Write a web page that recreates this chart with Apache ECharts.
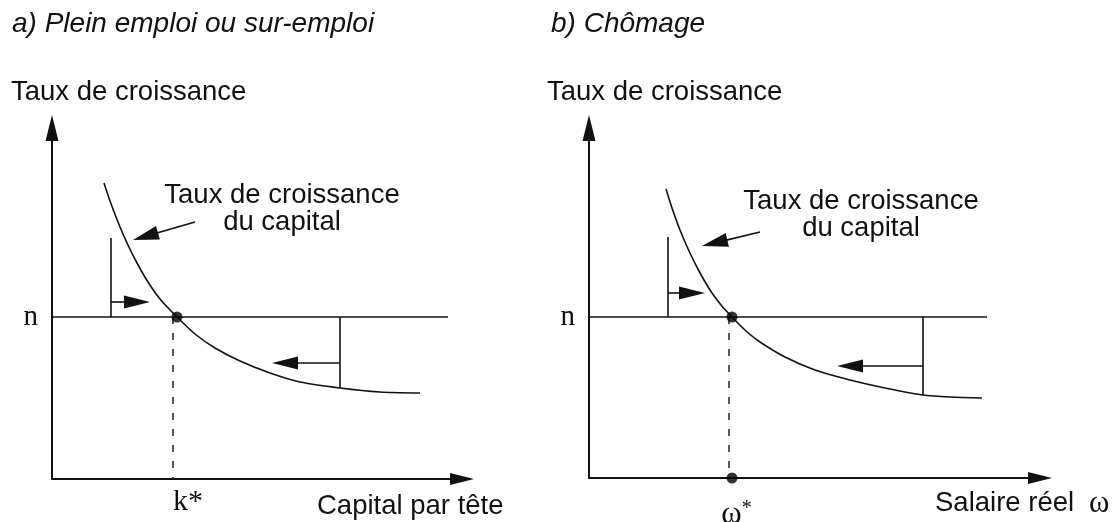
<!DOCTYPE html>
<html><head><meta charset="utf-8">
<script src="https://cdn.jsdelivr.net/npm/echarts@6/dist/echarts.min.js"></script>
<style>html,body{margin:0;padding:0;background:#fff}#c{width:1120px;height:522px}</style>
</head><body><div id="c"></div>
<script>
// ---------- Texts ----------
const panelTitles = ['a) Plein emploi ou sur-emploi', 'b) Chômage'];
const yAxisNames = ['Taux de croissance', 'Taux de croissance'];
const xAxisNames = ['Capital par tête', 'Salaire réel'];
const curveLabel = 'Taux de croissance\ndu capital';
const nLabel = 'n';
const starLabels = ['k*', 'ω'];

// ---------- Panel a (plein emploi) ----------
const nLevelA = 16.2;
const nLineAX = [0, 39.6];
const curveAX = [5.2, 5.8, 6.6, 7.5, 8.5, 9.6, 10.8, 12.5, 14.3, 16.3, 18.8, 21.8, 24.8, 28.8, 32.8, 36.8];
const curveAY = [29.6, 27.8, 25.7, 23.6, 21.6, 19.7, 18.0, 16.2, 14.5, 13.1, 11.8, 10.6, 9.7, 9.1, 8.7, 8.6];
const eqA = 12.5;       // equilibrium k*
const dashA = 12.1;
const bracketLeftA = [5.9, 24.1];   // x, top
const bracketRightA = [28.8, 9.1];  // x, bottom
const arrowsA = [[5.9, 17.7, 9.8, 17.7], [28.8, 11.6, 22.0, 11.6]];
const pointerA = [[14.3, 25.7, 8.1, 23.9]];

// ---------- Panel b (chômage) ----------
const nLevelB = 16.1;
const nLineBX = [0, 39.8];
const curveBX = [7.7, 8.3, 9.1, 10.0, 11.0, 12.1, 13.2, 14.3, 15.7, 17.1, 19.6, 22.6, 26.1, 29.6, 33.4, 36.1, 39.3];
const curveBY = [28.9, 27.0, 24.8, 22.7, 20.7, 18.8, 17.3, 16.1, 14.7, 13.6, 12.1, 10.8, 9.8, 9.0, 8.3, 8.1, 8.0];
const eqB = 14.3;       // equilibrium omega*
const dashB = 14.0;
const bracketLeftB = [7.9, 24.1];
const bracketRightB = [33.4, 8.3];
const arrowsB = [[7.9, 18.5, 11.6, 18.5], [33.4, 11.2, 24.8, 11.2]];
const pointerB = [[17.1, 24.6, 11.3, 23.2]];

// ---------- Styling ----------
const INK = '#111';
const SANS = 'Liberation Sans';
const SERIF = 'Liberation Serif';
const FS = 27.5;

function zip(xs, ys) { return xs.map((x, i) => [x, ys[i]]); }

function arrowRenderer(L, W) {
  return function (params, api) {
    const p1 = api.coord([api.value(0), api.value(1)]);
    const p2 = api.coord([api.value(2), api.value(3)]);
    const dx = p2[0] - p1[0], dy = p2[1] - p1[1];
    const len = Math.hypot(dx, dy) || 1;
    const ux = dx / len, uy = dy / len;
    const nx = -uy, ny = ux;
    const bx = p2[0] - ux * L, by = p2[1] - uy * L;
    return {
      type: 'group',
      children: [
        { type: 'line', shape: { x1: p1[0], y1: p1[1], x2: bx + ux * 2, y2: by + uy * 2 },
          style: { stroke: INK, lineWidth: 1.6 } },
        { type: 'polygon', shape: { points: [[p2[0], p2[1]], [bx + nx * W, by + ny * W], [bx - nx * W, by - ny * W]] },
          style: { fill: INK } }
      ]
    };
  };
}

function lineSeries(idx, data, extra) {
  return Object.assign({
    type: 'line', xAxisIndex: idx, yAxisIndex: idx, data: data,
    showSymbol: false, symbol: 'none', silent: true, clip: false,
    lineStyle: { color: INK, width: 1.6 }
  }, extra || {});
}

function panelSeries(idx, p) {
  return [
    lineSeries(idx, zip(p.cx, p.cy), { smooth: 0.25, lineStyle: { color: INK, width: 1.6 } }),
    lineSeries(idx, [[p.nx[0], p.n], [p.nx[1], p.n]]),
    lineSeries(idx, [[p.bl[0], p.bl[1]], [p.bl[0], p.n]]),
    lineSeries(idx, [[p.br[0], p.n], [p.br[0], p.br[1]]]),
    lineSeries(idx, [[p.dash, p.n], [p.dash, 0]], { lineStyle: { color: INK, width: 1.4, type: [7, 9] } }),
    { type: 'scatter', xAxisIndex: idx, yAxisIndex: idx, data: p.dots, symbolSize: 11,
      itemStyle: { color: '#000' }, silent: true, z: 5 },
    { type: 'custom', xAxisIndex: idx, yAxisIndex: idx, data: p.arrows, encode: { x: [0, 2], y: [1, 3] },
      renderItem: arrowRenderer(26, 6.5), silent: true, z: 4 },
    { type: 'custom', xAxisIndex: idx, yAxisIndex: idx, data: p.pointer, encode: { x: [0, 2], y: [1, 3] },
      renderItem: arrowRenderer(26, 7), silent: true, z: 4 }
  ];
}

const panelA = { cx: curveAX, cy: curveAY, n: nLevelA, nx: nLineAX, bl: bracketLeftA, br: bracketRightA,
  dash: dashA, dots: [[eqA, nLevelA]], arrows: arrowsA, pointer: pointerA };
const panelB = { cx: curveBX, cy: curveBY, n: nLevelB, nx: nLineBX, bl: bracketLeftB, br: bracketRightB,
  dash: dashB, dots: [[eqB, nLevelB], [eqB, 0]], arrows: arrowsB, pointer: pointerB };

function xAxisDef(idx, max, labelValue, labelOpts) {
  return {
    gridIndex: idx, type: 'value', min: 0, max: max,
    axisLine: { show: true, onZero: false, symbol: ['none', 'triangle'], symbolSize: [12, 24],
      lineStyle: { color: INK, width: 2 } },
    axisTick: { show: false }, splitLine: { show: false },
    axisLabel: Object.assign({ customValues: [labelValue], color: INK }, labelOpts)
  };
}
function yAxisDef(idx, max, nValue) {
  return {
    gridIndex: idx, type: 'value', min: 0, max: max,
    axisLine: { show: true, onZero: false, symbol: ['none', 'triangle'], symbolSize: [13, 26],
      lineStyle: { color: INK, width: 2 } },
    axisTick: { show: false }, splitLine: { show: false },
    axisLabel: { customValues: [nValue], formatter: () => nLabel, margin: 14,
      fontFamily: SERIF, fontSize: 29, color: INK }
  };
}

const sansStyle = (size, extra) => Object.assign({ fontFamily: SANS, fontSize: size, fontWeight: 'normal', color: INK }, extra || {});

const option = {
  animation: false,
  backgroundColor: '#fff',
  title: [
    { text: panelTitles[0], left: 12, top: 10, padding: 0, textStyle: sansStyle(28, { fontStyle: 'italic' }) },
    { text: panelTitles[1], left: 551, top: 10, padding: 0, textStyle: sansStyle(28, { fontStyle: 'italic' }) },
    { text: yAxisNames[0], left: 11, top: 78, padding: 0, textStyle: sansStyle(FS) },
    { text: yAxisNames[1], left: 547, top: 78, padding: 0, textStyle: sansStyle(FS) },
    { text: xAxisNames[0], left: 317, top: 492, padding: 0, textStyle: sansStyle(FS) },
    { text: '{t|' + xAxisNames[1] + '}{g|}{w|ω}', left: 935, top: 488, padding: 0,
      textStyle: sansStyle(FS, { rich: {
        t: { fontFamily: SANS, fontSize: FS, color: INK },
        g: { width: 15 },
        w: { fontFamily: SERIF, fontSize: 31, color: INK } } }) },
    { text: curveLabel, left: 282, top: 182, textAlign: 'center', padding: 0, textStyle: sansStyle(FS, { lineHeight: 27 }) },
    { text: curveLabel, left: 861, top: 188, textAlign: 'center', padding: 0, textStyle: sansStyle(FS, { lineHeight: 27 }) }
  ],
  grid: [
    { left: 52, right: 658, top: 128, bottom: 43, containLabel: false, outerBoundsMode: 'none' },
    { left: 589, right: 80, top: 128, bottom: 44, containLabel: false, outerBoundsMode: 'none' }
  ],
  xAxis: [
    xAxisDef(0, 41.0, dashA, { formatter: () => starLabels[0], align: 'left', margin: 8,
      fontFamily: SERIF, fontSize: 30 }),
    xAxisDef(1, 45.1, eqB, { formatter: () => '{s|}{w|' + starLabels[1] + '}{st|*}', margin: 21,
      rich: {
        s: { width: 9 },
        w: { fontFamily: SERIF, fontSize: 31, color: INK },
        st: { fontFamily: SERIF, fontSize: 20, color: INK, verticalAlign: 'top' }
      } })
  ],
  yAxis: [
    yAxisDef(0, 35.1, nLevelA),
    yAxisDef(1, 35.0, nLevelB)
  ],
  series: [].concat(panelSeries(0, panelA), panelSeries(1, panelB))
};

const chart = echarts.init(document.getElementById('c'), null, { renderer: 'canvas' });
chart.setOption(option);
</script></body></html>
